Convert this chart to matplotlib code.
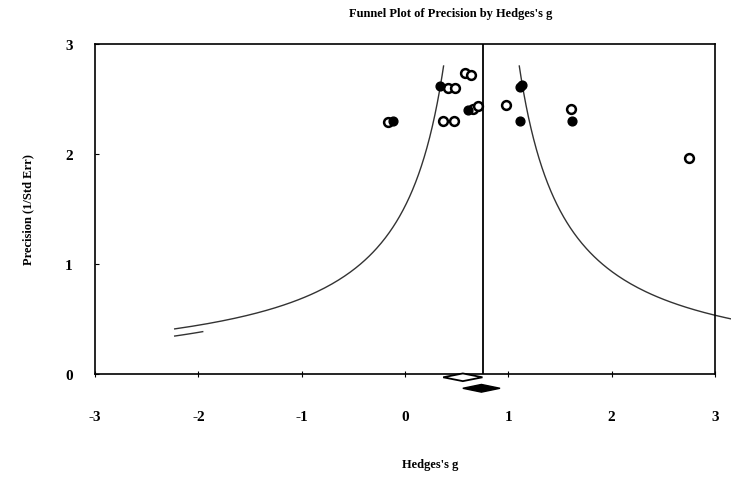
import numpy as np
import matplotlib
matplotlib.use("Agg")
from matplotlib import pyplot as plt

# studies (Hedges's g, precision = 1/SE)
open_g = [0.42, 0.48, 0.58, 0.64, 0.66, 0.71, -0.16, 0.37, 0.47, 0.98, 1.61, 2.75]
open_prec = [2.60, 2.60, 2.74, 2.72, 2.41, 2.44, 2.29, 2.30, 2.30, 2.45, 2.41, 1.96]
filled_g = [0.34, 0.61, -0.12, 1.11, 1.13, 1.11, 1.62]
filled_prec = [2.62, 2.40, 2.30, 2.61, 2.63, 2.30, 2.30]

# summary estimates (observed / imputed) with their limits
obs_mean, obs_lo, obs_hi = 0.56, 0.37, 0.75
adj_mean, adj_lo, adj_hi = 0.74, 0.56, 0.92
ref_line = 0.76

xticks = [-3, -2, -1, 0, 1, 2, 3]
yticks = [0, 1, 2, 3]

plt.rcParams['font.family'] = ['Liberation Serif', 'DejaVu Serif']

fig = plt.figure(figsize=(7.31, 4.81), dpi=100)
ax = fig.add_axes([0.130, 0.2204, 0.848, 0.686])

# funnel
def half_width(p):
    return 1.25 / p - 0.08

p_left = np.linspace(0.41, 2.8, 200)
ax.plot(adj_mean - half_width(p_left), p_left, color='#333333', lw=1.0)
p_stub = np.linspace(0.345, 0.385, 20)
ax.plot(adj_mean - half_width(p_stub + 0.065), p_stub, color='#333333', lw=1.0)
p_right = np.linspace(0.44, 2.8, 200)
ax.plot(adj_mean + half_width(p_right), p_right, color='#333333', lw=1.0, clip_on=False)

ax.axvline(ref_line, color='black', lw=1.3)

ax.scatter(open_g, open_prec, s=40, facecolors='white', edgecolors='black', linewidths=1.8, zorder=3)
ax.scatter(filled_g, filled_prec, s=40, facecolors='black', edgecolors='black', linewidths=1.0, zorder=4)

# summary diamonds under the axis
ax.fill([obs_lo, obs_mean, obs_hi, obs_mean], [-0.03, 0.005, -0.03, -0.065],
        facecolor='white', edgecolor='black', lw=1.3, clip_on=False, zorder=5)
ax.fill([adj_lo, adj_mean, adj_hi, adj_mean], [-0.13, -0.095, -0.13, -0.165],
        facecolor='black', edgecolor='black', lw=1.0, clip_on=False, zorder=5)

ax.set_xlim(-3, 3)
ax.set_ylim(0, 3)
ax.set_xticks(xticks)
ax.set_yticks(yticks)
ax.set_xticklabels([str(t) for t in xticks], fontweight='bold', fontsize=11)
ax.set_yticklabels([str(t) for t in yticks], fontweight='bold', fontsize=11)
ax.tick_params(axis='x', direction='inout', length=4, pad=24)
ax.tick_params(axis='y', direction='in', length=3, pad=16)
for sp in ax.spines.values():
    sp.set_linewidth(1.2)

ax.set_ylabel('Precision (1/Std Err)', fontweight='bold', fontsize=9, labelpad=22)
fig.text(0.589, 0.028, "Hedges's g", ha='center', fontweight='bold', fontsize=9)
fig.text(0.617, 0.965, "Funnel Plot of Precision by Hedges's g", ha='center',
         fontweight='bold', fontsize=9)

fig.savefig('out.png', dpi=100)
